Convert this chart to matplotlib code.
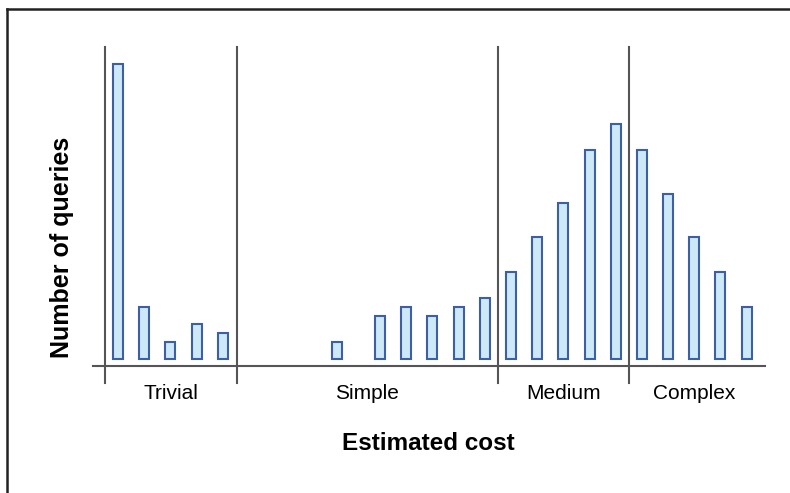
import numpy as np
import matplotlib
matplotlib.use('Agg')
import matplotlib.pyplot as plt
from matplotlib.lines import Line2D

plt.rcParams['font.family'] = ['Liberation Sans', 'DejaVu Sans']

# bin positions (cost slots) and number of queries per bin
posiciones = [0, 1, 2, 3, 4, 8.35, 10, 11, 12, 13, 14, 15, 16, 17, 18, 19, 20, 21, 22, 23, 24]
consultas = [34, 6, 2, 4, 3, 2, 5, 6, 5, 6, 7, 10, 14, 18, 24, 27, 24, 19, 14, 10, 6]

# category boundaries and labels
limites = [4.54, 14.5, 19.5]
categorias = ['Trivial', 'Simple', 'Medium', 'Complex']
pos_categorias = [2, 9.5, 17, 22]

W, H = 790, 493
fig = plt.figure(figsize=(W / 100, H / 100), dpi=100)
ax = fig.add_axes([105 / W, 1 - 366 / H, (765 - 105) / W, (366 - 47) / H])

y0 = -0.8
ax.bar(posiciones, consultas, width=0.38, color='#cde8f6', edgecolor='#3d5fa6', linewidth=1.5)

ax.set_xlim(-0.5, 24.7)
ax.set_ylim(y0, 35.9)
for s in ax.spines.values():
    s.set_visible(False)
ax.set_xticks([])
ax.set_yticks([])

gris = '#555555'
abajo = y0 - 1.95
# x axis line
ax.plot([-0.96, 24.7], [y0, y0], color=gris, lw=1.5, clip_on=False)
# y axis line
ax.plot([-0.5, -0.5], [abajo, 35.9], color=gris, lw=1.5, clip_on=False)
# divider lines
for x in limites:
    ax.plot([x, x], [abajo, 35.9], color=gris, lw=1.5, clip_on=False)

for x, t in zip(pos_categorias, categorias):
    ax.text(x, y0 - 3.2, t, ha='center', va='center', fontsize=15)

fig.text(428 / W, 1 - 444 / H, 'Estimated cost', ha='center', va='center',
         fontsize=17.5, fontweight='bold')
fig.text(62 / W, 1 - 247 / H, 'Number of queries', ha='center', va='center',
         rotation=90, fontsize=18, fontweight='bold')

# frame (top and left only)
fig.add_artist(Line2D([7 / W, 1], [1 - 9 / H, 1 - 9 / H], color='#222222', lw=1.8))
fig.add_artist(Line2D([7 / W, 7 / W], [0, 1 - 9 / H], color='#222222', lw=1.8))

fig.savefig('out.png', dpi=100)
